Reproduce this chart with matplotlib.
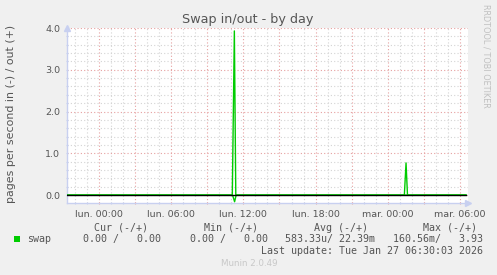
import matplotlib
matplotlib.use("Agg")
import matplotlib.pyplot as plt
from matplotlib.ticker import FixedLocator, MultipleLocator
from matplotlib.patches import Rectangle

# ---- data (hours relative to Monday 00:00) ----
out_hours = [-2.66, 11.08, 11.25, 11.37, 25.38, 25.52, 25.64, 30.5]
out_values = [0.0, 0.0, 3.93, 0.0, 0.0, 0.77, 0.0, 0.0]
in_hours = [-2.66, 11.10, 11.27, 11.40, 30.5]
in_values = [0.0, 0.0, 0.16, 0.0, 0.0]

x_tick_hours = [0, 6, 12, 18, 24, 30]
x_tick_labels = ["lun. 00:00", "lun. 06:00", "lun. 12:00", "lun. 18:00",
                 "mar. 00:00", "mar. 06:00"]
y_ticks = [0.0, 1.0, 2.0, 3.0, 4.0]

legend_header = ["Cur (-/+)", "Min (-/+)", "Avg (-/+)", "Max (-/+)"]
legend_values = ["0.00 /   0.00", "0.00 /   0.00", "583.33u/ 22.39m", "160.56m/   3.93"]
series_name = "swap"
title = "Swap in/out - by day"
ylabel = "pages per second in (-) / out (+)"
last_update = "Last update: Tue Jan 27 06:30:03 2026"
footer = "Munin 2.0.49"
side_text = "RRDTOOL / TOBI OETIKER"

# ---- figure ----
W, H = 497, 275
fig = plt.figure(figsize=(W / 100, H / 100), dpi=100, facecolor="#F0F0F0")

def fx(px):
    return px / W

def fy(py):
    return 1 - py / H

left, right, top, bottom = 67, 468, 28, 203
ax = fig.add_axes([fx(left), fy(bottom), fx(right - left), (bottom - top) / H])
ax.set_facecolor("white")
ax.set_xlim(-2.66, 30.67)
ax.set_ylim(-0.19, 4.0)

green = "#00CC00"
ax.plot(out_hours, out_values, color=green, lw=1.0, zorder=4)
ax.plot(in_hours, [-v for v in in_values], color=green, lw=1.0, zorder=4)
ax.axhline(0, xmax=0.995, color="black", lw=1.0, zorder=5)

# grid
major_x = list(range(0, 31, 3))
minor_x = list(range(-2, 31))
ax.xaxis.set_major_locator(FixedLocator(major_x))
ax.xaxis.set_minor_locator(FixedLocator(minor_x))
ax.set_xticklabels([x_tick_labels[x_tick_hours.index(h)] if h in x_tick_hours else "" for h in major_x])
ax.yaxis.set_major_locator(FixedLocator(y_ticks))
ax.yaxis.set_minor_locator(MultipleLocator(0.2))
ax.set_yticklabels([f"{v:.1f}" for v in y_ticks])

ax.grid(which="minor", color="#D4D4D4", ls=(0, (1, 2)), lw=0.8, zorder=1)
ax.grid(which="major", color="#E6A0A0", ls=(0, (1, 2)), lw=0.8, zorder=2)

for s in ["top", "right"]:
    ax.spines[s].set_visible(False)
for s in ["left", "bottom"]:
    ax.spines[s].set_color("#C8D0F0")
    ax.spines[s].set_linewidth(1.0)

ax.tick_params(axis="both", which="both", colors="#C8D0F0", labelcolor="#555555",
               labelsize=6.8, length=2, width=0.8, direction="inout")
ax.tick_params(axis="x", which="major", colors="#E6A0A0", labelcolor="#555555", pad=4)
ax.tick_params(axis="y", which="major", pad=4)

# arrows
ax.plot([0], [1.0], marker="^", color="#C8D0F0", ms=4, transform=ax.transAxes,
        clip_on=False)
ax.plot([1.0], [0.0], marker=">", color="#C8D0F0", ms=4, transform=ax.transAxes,
        clip_on=False)
ax.set_ylim(-0.19, 4.0)

# title & labels
fig.text(fx(248), fy(20), title, ha="center", va="center", fontsize=9.2, color="#555555")
fig.text(fx(11), fy(114), ylabel, ha="center", va="center", rotation=90,
         fontsize=7.9, color="#555555")
fig.text(fx(486), fy(56), side_text, ha="center", va="center", rotation=270,
         fontsize=5.9, color="#C0C0C0")

# legend
mono = "DejaVu Sans Mono"
fs = 7.2
fig.patches.append(Rectangle((fx(14), fy(242)), fx(6), 6 / H, transform=fig.transFigure,
                             facecolor=green, edgecolor="none"))
fig.text(fx(27), fy(239), series_name, ha="left", va="center", fontsize=fs,
         family=mono, color="#555555")
header_x = [94, 204, 314, 423]
value_x = [83, 190, 285, 393]
for hx, h in zip(header_x, legend_header):
    fig.text(fx(hx), fy(228), h, ha="left", va="center", fontsize=fs, family=mono,
             color="#555555")
for vx, v in zip(value_x, legend_values):
    fig.text(fx(vx), fy(239), v, ha="left", va="center", fontsize=fs, family=mono,
             color="#555555")
fig.text(fx(261), fy(251), last_update, ha="left", va="center", fontsize=fs,
         family=mono, color="#555555")
fig.text(fx(249), fy(264), footer, ha="center", va="center", fontsize=6.3,
         color="#C8C8C8")

fig.savefig("out.png", dpi=100, facecolor=fig.get_facecolor())
